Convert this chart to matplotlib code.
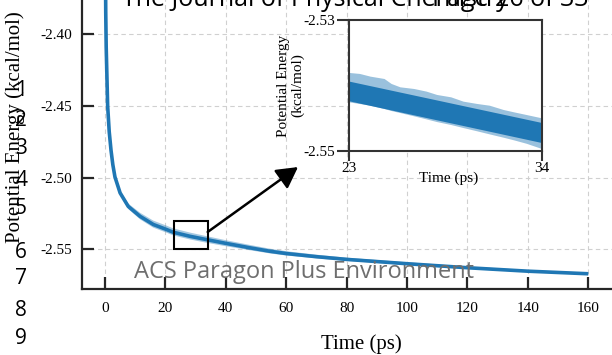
import matplotlib.pyplot as plt
from matplotlib.patches import Rectangle

plt.rcParams['font.family'] = 'Liberation Serif'
plt.rcParams['axes.unicode_minus'] = False

W, H = 612, 355

# averaged potential energy trace (ps, kcal/mol) with min/max spread
time = [0, 0.25, 0.4, 0.88, 1.4, 2.0, 2.6, 3.3, 5, 7.7, 11.6, 16, 20.4, 22.6,
        28.1, 33.6, 40.2, 47.9, 54.5, 60, 70, 80, 100, 120, 140, 160]
energy = [-2.300, -2.385, -2.409, -2.450, -2.468, -2.481, -2.491, -2.4995,
          -2.5106, -2.5200, -2.5269, -2.5326, -2.5361, -2.5380, -2.5408,
          -2.5431, -2.5458, -2.5488, -2.5512, -2.5528, -2.5550, -2.5569,
          -2.5599, -2.5627, -2.5651, -2.5669]
energy_hi = [-2.300, -2.385, -2.409, -2.450, -2.4675, -2.4802, -2.4900,
             -2.4983, -2.5091, -2.5180, -2.5244, -2.5299, -2.5334, -2.5353,
             -2.5382, -2.5407, -2.5436, -2.5468, -2.5494, -2.5512, -2.5536,
             -2.5557, -2.5589, -2.5618, -2.5643, -2.5661]
energy_lo = [-2.300, -2.385, -2.409, -2.450, -2.4685, -2.4818, -2.4920,
             -2.5007, -2.5121, -2.5218, -2.5290, -2.5348, -2.5383, -2.5402,
             -2.5430, -2.5453, -2.5478, -2.5505, -2.5527, -2.5542, -2.5562,
             -2.5579, -2.5608, -2.5635, -2.5658, -2.5676]

# 23-34 ps window, sampled finer
zoom_time = [23, 23.6, 24.2, 25.0, 25.4, 25.9, 26.7, 27.4, 28.0, 28.8, 29.5,
             30.3, 31.0, 31.8, 32.4, 33.1, 34]
zoom_max = [-2.53801, -2.53816, -2.53857, -2.53893, -2.53969, -2.54020,
            -2.54046, -2.54086, -2.54137, -2.54173, -2.54239, -2.54275,
            -2.54301, -2.54367, -2.54403, -2.54443, -2.54495]
zoom_min = [-2.54250, -2.54275, -2.54301, -2.54352, -2.54382, -2.54413,
            -2.54464, -2.54510, -2.54551, -2.54596, -2.54642, -2.54693,
            -2.54739, -2.54790, -2.54831, -2.54882, -2.54964]
core_time = [23, 34]
core_hi = [-2.53933, -2.54566]
core_lo = [-2.54234, -2.54872]

main_xticks = [0, 20, 40, 60, 80, 100, 120, 140, 160]
main_yticks = [-2.55, -2.50, -2.45, -2.40]

blue = '#1f77b4'
dark = '#262626'

fig = plt.figure(figsize=(W / 100, H / 100), dpi=100)

# main axes, runs past the top and right edge of the page crop
ax = fig.add_axes([82 / W, 66 / H, 551.6 / W, 326.8 / H])
ax.fill_between(time, energy_lo, energy_hi, color=blue, alpha=0.4, lw=0)
ax.plot(time, energy, color=blue, lw=2.6, solid_capstyle='butt')
ax.set_xlim(-7.61, 175)
ax.set_ylim(-2.5775, -2.35)
ax.set_xticks(main_xticks)
ax.set_yticks(main_yticks)
ax.set_yticklabels(['%.2f' % v for v in main_yticks])
ax.grid(True, color='#d0d0d0', linestyle=(0, (4, 3)), linewidth=0.8)
ax.set_axisbelow(True)
for s in ['left', 'bottom']:
    ax.spines[s].set_color(dark)
    ax.spines[s].set_linewidth(1.6)
for s in ['top', 'right']:
    ax.spines[s].set_visible(False)
ax.tick_params(direction='in', length=8.5, width=1.6, color=dark, labelsize=11)
ax.tick_params(axis='y', pad=7)
ax.tick_params(axis='x', pad=9)
ax.set_xlabel('Time (ps)', fontsize=15)
ax.set_ylabel('Potential Energy (kcal/mol)', fontsize=15)
ax.xaxis.set_label_coords(0.506, -0.137)
ax.yaxis.set_label_coords(-0.103, 0.494)

ax.add_patch(Rectangle((23, -2.55), 11, 0.02, fill=False, ec='black', lw=1.5, zorder=5))
ax.annotate('', xy=(63.9, -2.4926), xytext=(34, -2.5378),
            arrowprops=dict(arrowstyle='-|>,head_length=0.4,head_width=0.22',
                            color='black', lw=1.8, mutation_scale=32,
                            shrinkA=0, shrinkB=0), zorder=6)

# inset
axi = fig.add_axes([349 / W, 204 / H, 193 / W, 131 / H])
axi.fill_between(zoom_time, zoom_min, zoom_max, color=blue, alpha=0.45, lw=0)
axi.fill_between(core_time, core_lo, core_hi, color=blue, lw=0)
axi.set_xlim(23, 34)
axi.set_ylim(-2.55, -2.53)
axi.set_xticks([23, 34])
axi.set_yticks([-2.55, -2.53])
axi.set_yticklabels(['-2.55', '-2.53'])
for s in axi.spines.values():
    s.set_color('#333333')
    s.set_linewidth(1.5)
axi.tick_params(axis='x', direction='out', length=7, width=1.5, color='#333333',
                labelsize=11, pad=1)
axi.tick_params(axis='y', direction='out', length=9, width=1.5, color='#333333',
                labelsize=11, pad=1)
axi.set_xlabel('Time (ps)', fontsize=11)
axi.set_ylabel('Potential Energy\n(kcal/mol)', fontsize=11, linespacing=1.15)
axi.xaxis.set_label_coords(0.518, -0.16)
axi.yaxis.set_label_coords(-0.23, 0.5)

# page furniture
fig.text(122 / W, 1 - 5.5 / H, 'The Journal of Physical Chemistry', family='Open Sans',
         fontsize=18, va='baseline', ha='left', color='black')
fig.text(589 / W, 1 - 5.5 / H, 'Page 26 of 33', family='Open Sans',
         fontsize=18, va='baseline', ha='right', color='black')
fig.text(304 / W, 1 - 278 / H, 'ACS Paragon Plus Environment', family='Open Sans',
         fontsize=17, va='baseline', ha='center', color='#6e6e6e', zorder=10)
line_y = [91, 121, 149, 180, 209, 252, 278, 310, 339]
for i, y in enumerate(line_y):
    fig.text(21 / W, 1 - y / H, str(i + 1), family='Open Sans', fontsize=15,
             ha='center', va='center', color='black')

fig.savefig('out.png', dpi=100)
